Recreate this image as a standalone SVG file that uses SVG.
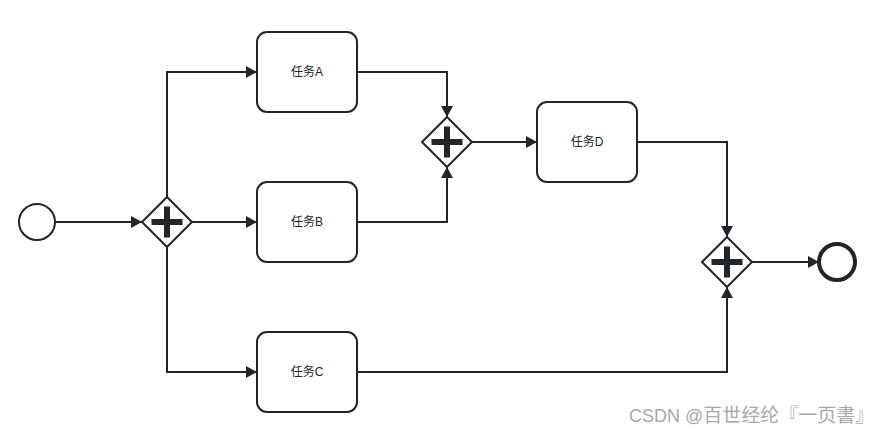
<svg xmlns="http://www.w3.org/2000/svg" width="884" height="435" viewBox="0 0 884 435">
<style>
.c{fill:none;stroke:#22242a;stroke-width:2}
.t{fill:#fff;stroke:#22242a;stroke-width:2}
.g{fill:#fff;stroke:#22242a;stroke-width:2}
.p{fill:none;stroke:#22242a;stroke-width:6}
.l{font-family:"Liberation Sans","Noto Sans CJK SC",sans-serif;font-size:12px;fill:#22242a;text-anchor:middle}
.w{font-family:"Liberation Sans","Noto Sans CJK SC",sans-serif;font-size:18px;fill:#a8a8a8}
.wc{font-size:19px}
</style>
<defs>
<marker id="a" markerUnits="userSpaceOnUse" markerWidth="14" markerHeight="14" refX="12" refY="7" orient="auto"><path d="M1 1L12 7L1 13Z" fill="#22242a"/></marker>
<g id="plus"><path class="p" d="M-15.500 0H15.500M0-15.500V15.500"/></g>
</defs>
<rect width="884" height="435" fill="#fff"/>
<g id="connectors">
<path class="c" marker-end="url(#a)" d="M55 222H142"/>
<path class="c" marker-end="url(#a)" d="M167 197V72H257"/>
<path class="c" marker-end="url(#a)" d="M192 222H257"/>
<path class="c" marker-end="url(#a)" d="M167 247V372H257"/>
<path class="c" marker-end="url(#a)" d="M357 72H447V117"/>
<path class="c" marker-end="url(#a)" d="M357 222H447V167"/>
<path class="c" marker-end="url(#a)" d="M472 142H537"/>
<path class="c" marker-end="url(#a)" d="M637 142H727V237"/>
<path class="c" marker-end="url(#a)" d="M357 372H727V287"/>
<path class="c" marker-end="url(#a)" d="M752 262H819"/>
</g>
<g id="start"><circle class="t" cx="37" cy="222" r="18"/></g>
<g id="gateway1"><path class="g" d="M167 197L192 222L167 247L142 222Z"/><use href="#plus" x="167" y="222"/></g>
<g id="taskA"><rect class="t" x="257" y="32" width="100" height="80" rx="10"/><text class="l" x="307" y="76">任务A</text></g>
<g id="taskB"><rect class="t" x="257" y="182" width="100" height="80" rx="10"/><text class="l" x="307" y="226">任务B</text></g>
<g id="taskC"><rect class="t" x="257" y="332" width="100" height="80" rx="10"/><text class="l" x="307" y="376">任务C</text></g>
<g id="gateway2"><path class="g" d="M447 117L472 142L447 167L422 142Z"/><use href="#plus" x="447" y="142"/></g>
<g id="taskD"><rect class="t" x="537" y="102" width="100" height="80" rx="10"/><text class="l" x="587" y="146">任务D</text></g>
<g id="gateway3"><path class="g" d="M727 237L752 262L727 287L702 262Z"/><use href="#plus" x="727" y="262"/></g>
<g id="end"><circle cx="837" cy="262" r="18" fill="#fff" stroke="#22242a" stroke-width="4"/></g>
<text class="w" x="629" y="422">CSDN @<tspan class="wc">百世经纶『一页書』</tspan></text>
</svg>
